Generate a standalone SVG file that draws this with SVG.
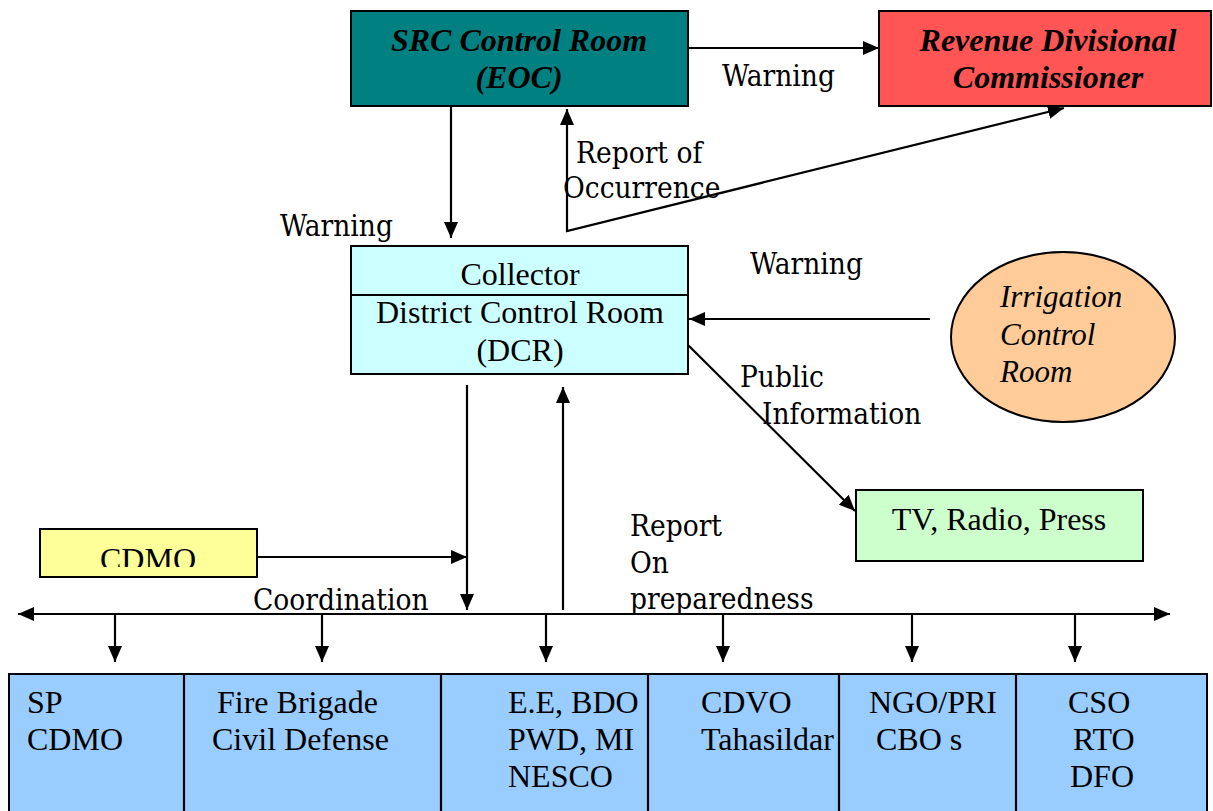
<svg xmlns="http://www.w3.org/2000/svg" width="1213" height="811" viewBox="0 0 1213 811">
<defs>
<marker id="ah" viewBox="0 0 16 14" refX="16" refY="7" markerWidth="16" markerHeight="14" markerUnits="userSpaceOnUse" orient="auto-start-reverse">
<path d="M0,0 L16,7 L0,14 Z" fill="#000"/>
</marker>
<clipPath id="cdmoclip"><rect x="40" y="529" width="217" height="38"/></clipPath>
</defs>
<style>
.box{stroke:#000;stroke-width:2}
.t{font-family:"Liberation Serif","Times New Roman",serif;font-size:32px;fill:#000}
.bi{font-family:"Liberation Serif","Times New Roman",serif;font-size:32px;font-weight:bold;font-style:italic;fill:#000}
.it{font-family:"Liberation Serif","Times New Roman",serif;font-size:31px;font-style:italic;fill:#000}
.lb{font-family:"DejaVu Serif Condensed","DejaVu Serif",serif;font-stretch:condensed;font-size:29.5px;fill:#000}
.c{stroke:#000;stroke-width:2.2;fill:none}
</style>
<rect width="1213" height="811" fill="#fff"/>

<g id="src">
<rect class="box" x="351" y="11" width="337" height="95" fill="#008080"/>
<text class="bi" x="519" y="51" text-anchor="middle">SRC Control Room</text>
<text class="bi" x="519" y="88" text-anchor="middle">(EOC)</text>
</g>

<g id="revenue">
<rect class="box" x="879" y="11" width="332" height="95" fill="#FF5555"/>
<text class="bi" x="1048" y="51" text-anchor="middle">Revenue Divisional</text>
<text class="bi" x="1048" y="88" text-anchor="middle">Commissioner</text>
</g>

<g id="dcr">
<rect class="box" x="351" y="246" width="337" height="128" fill="#CCFFFF"/>
<line class="c" x1="351" y1="295" x2="688" y2="295"/>
<text class="t" x="520" y="285" text-anchor="middle">Collector</text>
<text class="t" x="520" y="323" text-anchor="middle">District Control Room</text>
<text class="t" x="520" y="361" text-anchor="middle">(DCR)</text>
</g>

<g id="irrigation">
<ellipse class="box" cx="1063" cy="337" rx="112" ry="85" fill="#FFCC99"/>
<text class="it" x="1000" y="307">Irrigation</text>
<text class="it" x="1000" y="345">Control</text>
<text class="it" x="1000" y="382">Room</text>
</g>

<g id="tv">
<rect class="box" x="856" y="490" width="287" height="71" fill="#CCFFCC"/>
<text class="t" x="999" y="530" text-anchor="middle">TV, Radio, Press</text>
</g>

<g id="cdmo">
<rect class="box" x="40" y="529" width="217" height="48" fill="#FFFF99"/>
<text class="t" x="148" y="570" text-anchor="middle" clip-path="url(#cdmoclip)">CDMO</text>
</g>

<g id="bottom">
<rect class="box" x="9" y="674" width="1198" height="140" fill="#99CCFF"/>
<line class="c" x1="184" y1="674" x2="184" y2="811"/>
<line class="c" x1="441" y1="674" x2="441" y2="811"/>
<line class="c" x1="648" y1="674" x2="648" y2="811"/>
<line class="c" x1="839" y1="674" x2="839" y2="811"/>
<line class="c" x1="1016" y1="674" x2="1016" y2="811"/>
<text class="t" x="27" y="713">SP</text>
<text class="t" x="27" y="750">CDMO</text>
<text class="t" x="217" y="713">Fire Brigade</text>
<text class="t" x="212" y="750">Civil Defense</text>
<text class="t" x="508" y="713">E.E, BDO</text>
<text class="t" x="508" y="750">PWD, MI</text>
<text class="t" x="508" y="787">NESCO</text>
<text class="t" x="701" y="713">CDVO</text>
<text class="t" x="701" y="750">Tahasildar</text>
<text class="t" x="869" y="713">NGO/PRI</text>
<text class="t" x="876" y="750">CBO s</text>
<text class="t" x="1068" y="713">CSO</text>
<text class="t" x="1073" y="750">RTO</text>
<text class="t" x="1070" y="787">DFO</text>
</g>

<g id="connectors">
<line class="c" x1="688" y1="48" x2="879" y2="48" marker-end="url(#ah)"/>
<line class="c" x1="451" y1="106" x2="451" y2="238" marker-end="url(#ah)"/>
<polyline class="c" points="1064,108 567,231 567,109" marker-start="url(#ah)" marker-end="url(#ah)"/>
<line class="c" x1="930" y1="319" x2="689" y2="319" marker-end="url(#ah)"/>
<line class="c" x1="688" y1="345" x2="855" y2="511" marker-end="url(#ah)"/>
<line class="c" x1="467" y1="385" x2="467" y2="610" marker-end="url(#ah)"/>
<line class="c" x1="563" y1="610" x2="563" y2="387" marker-end="url(#ah)"/>
<line class="c" x1="258" y1="557" x2="467" y2="557" marker-end="url(#ah)"/>
<line class="c" x1="18" y1="614" x2="1170" y2="614" marker-start="url(#ah)" marker-end="url(#ah)"/>
<line class="c" x1="115" y1="614" x2="115" y2="662" marker-end="url(#ah)"/>
<line class="c" x1="322" y1="614" x2="322" y2="662" marker-end="url(#ah)"/>
<line class="c" x1="546" y1="614" x2="546" y2="662" marker-end="url(#ah)"/>
<line class="c" x1="723" y1="614" x2="723" y2="662" marker-end="url(#ah)"/>
<line class="c" x1="912" y1="614" x2="912" y2="662" marker-end="url(#ah)"/>
<line class="c" x1="1075" y1="614" x2="1075" y2="662" marker-end="url(#ah)"/>
</g>

<g id="labels">
<text class="lb" x="722" y="86">Warning</text>
<text class="lb" x="576" y="163">Report of</text>
<text class="lb" x="563" y="198">Occurrence</text>
<text class="lb" x="280" y="236">Warning</text>
<text class="lb" x="750" y="274">Warning</text>
<text class="lb" x="740" y="387">Public</text>
<text class="lb" x="762" y="424">Information</text>
<text class="lb" x="630" y="536">Report</text>
<text class="lb" x="630" y="573">On</text>
<text class="lb" x="630" y="609">preparedness</text>
<text class="lb" x="253" y="610">Coordination</text>
</g>
</svg>
